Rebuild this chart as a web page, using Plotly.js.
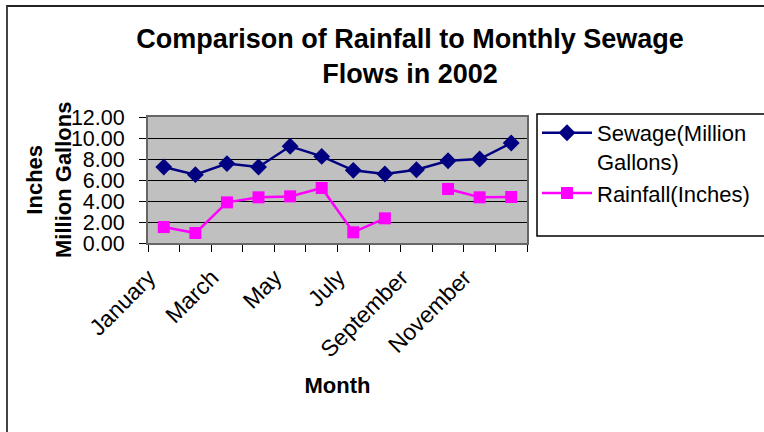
<!DOCTYPE html>
<html>
<head>
<meta charset="utf-8">
<script src="https://cdn.plot.ly/plotly-3.0.1.min.js"></script>
<style>
html,body{margin:0;padding:0;background:#fff;}
#wrap{position:relative;width:764px;height:432px;overflow:hidden;}
#chart{position:absolute;left:0;top:0;width:764px;height:432px;}
#frame{position:absolute;left:6px;top:5px;width:800px;height:500px;border-top:2px solid #222;border-left:2px solid #444;pointer-events:none;}
</style>
</head>
<body>
<div id="wrap"><div id="chart"></div><div id="frame"></div></div>
<script>
var months = ["January","February","March","April","May","June","July","August","September","October","November","December"];
var tickLabels = ["January","","March","","May","","July","","September","","November",""];
var sewage = [7.24, 6.51, 7.56, 7.24, 9.21, 8.25, 6.92, 6.57, 6.98, 7.84, 8.00, 9.52];
var rainfall = [1.52, 0.95, 3.87, 4.35, 4.44, 5.24, 1.02, 2.35, null, 5.14, 4.35, 4.38];

var FONT = "Liberation Sans, Arial, sans-serif";
var L = 148, R = 527, T = 117, B = 243, W = 764, H = 432;
var pw = R - L, ph = B - T;

var traces = [
  {x: months, y: sewage, type: "scatter", mode: "lines+markers", name: "Sewage(Million<br>Gallons)",
   line: {color: "#000080", width: 2.5}, marker: {symbol: "diamond", size: 13, color: "#000080"}},
  {x: months, y: rainfall, type: "scatter", mode: "lines+markers", name: "Rainfall(Inches)",
   connectgaps: false,
   line: {color: "#FF00FF", width: 2.5}, marker: {symbol: "square", size: 12, color: "#FF00FF"}}
];

var layout = {
  width: W, height: H,
  margin: {l: L, r: W - R, t: T, b: H - B, pad: 0, autoexpand: false},
  paper_bgcolor: "#ffffff",
  plot_bgcolor: "#C0C0C0",
  font: {family: FONT, size: 22, color: "#000"},
  showlegend: true,
  title: {text: "<b>Comparison of Rainfall to Monthly Sewage<br>Flows in 2002</b>",
          font: {family: FONT, size: 27, color: "#000"},
          x: 410 / W, xref: "container", xanchor: "center",
          y: 1 - 48 / H, yref: "container", yanchor: "top"},
  xaxis: {type: "category", categoryorder: "array", categoryarray: months,
          range: [-0.5, 11.5], autorange: false,
          tickmode: "array", tickvals: months, ticktext: tickLabels,
          tickson: "boundaries", ticks: "outside", ticklen: 7, tickcolor: "#000", tickwidth: 1,
          tickangle: -45, tickfont: {family: FONT, size: 23},
          ticklabelstandoff: 10, ticklabelshift: -15,
          showgrid: false, zeroline: false,
          showline: true, linecolor: "#666", linewidth: 2, mirror: true,
          automargin: false,
          title: {text: "<b>Month</b>", font: {family: FONT, size: 22}, standoff: 16}},
  yaxis: {range: [0, 12], dtick: 2, tick0: 0, tickformat: ".2f",
          ticks: "outside", ticklen: 7, tickcolor: "#000", tickwidth: 1,
          ticklabelstandoff: 10,
          tickfont: {family: FONT, size: 21.5},
          showgrid: true, gridcolor: "#000", gridwidth: 1, zeroline: false,
          showline: true, linecolor: "#666", linewidth: 2, mirror: true,
          automargin: false},
  annotations: [
    {text: "<b>Inches<br>Million Gallons</b>", xref: "paper", yref: "paper",
     x: (49 - L) / pw, y: (B - 180) / ph, xanchor: "center", yanchor: "middle",
     textangle: -90, showarrow: false, font: {family: FONT, size: 22, color: "#000"}}
  ],
  legend: {x: (537 - L) / pw, xanchor: "left", y: (B - 112) / ph, yanchor: "top",
           bgcolor: "rgba(0,0,0,0)", borderwidth: 0, valign: "top",
           font: {family: FONT, size: 22}, tracegroupgap: 0, itemwidth: 50},
  shapes: [
    {type: "rect", xref: "paper", yref: "paper",
     x0: (537 - L) / pw, x1: (800 - L) / pw, y0: (B - 236) / ph, y1: (B - 114) / ph,
     line: {color: "#000", width: 1.5}, fillcolor: "rgba(0,0,0,0)", layer: "below"}
  ]
};

Plotly.newPlot("chart", traces, layout, {displayModeBar: false, staticPlot: true});
</script>
</body>
</html>
